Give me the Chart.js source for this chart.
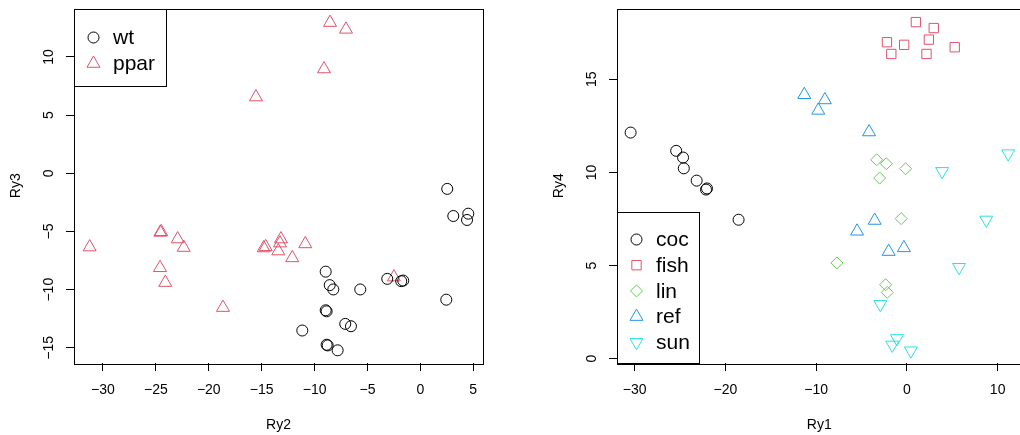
<!DOCTYPE html>
<html>
<head>
<meta charset="utf-8">
<script src="https://cdn.jsdelivr.net/npm/chart.js@4/dist/chart.umd.min.js"></script>
<style>
html, body { margin:0; padding:0; background:#fff; overflow:hidden; width:1020px; height:435px; }
#left { position:absolute; left:0; top:0; width:510px; height:435px; }
#right { position:absolute; left:510px; top:0; width:520px; height:435px; }
</style>
</head>
<body>
<div id="left"><canvas id="c1" width="510" height="435"></canvas></div>
<div id="right"><canvas id="c2" width="520" height="435"></canvas></div>
<script>
// left panel: Ry2 vs Ry3
var wtX = [2.54, 3.11, 4.53, 4.41, 2.45, -8.95, -8.57, -8.23, -5.68, -3.13, -1.81, -1.62, -8.95, -8.86, -7.10, -6.56, -11.16, -8.86, -8.76, -7.82];
var wtY = [-1.34, -3.67, -3.47, -4.01, -10.86, -8.45, -9.61, -9.98, -9.98, -9.07, -9.27, -9.22, -11.77, -11.86, -12.94, -13.14, -13.51, -14.73, -14.79, -15.21];
var pparX = [-8.54, -7.03, -9.11, -15.54, -31.26, -24.58, -24.50, -22.94, -22.37, -24.61, -24.11, -18.66, -14.81, -14.62, -13.18, -13.27, -13.43, -12.11, -10.88, -2.50];
var pparY = [12.95, 12.37, 8.96, 6.55, -6.34, -5.08, -5.03, -5.65, -6.38, -8.12, -9.39, -11.54, -6.42, -6.32, -5.65, -6.00, -6.68, -7.27, -6.07, -8.92];

// right panel: Ry1 vs Ry4
var cocX = [-30.45, -25.43, -24.67, -24.59, -23.17, -22.14, -22.03, -18.55];
var cocY = [12.14, 11.16, 10.80, 10.22, 9.56, 9.08, 9.14, 7.46];
var fishX = [0.99, 2.96, -2.20, -0.30, 2.42, -1.72, 2.16, 5.27];
var fishY = [18.07, 17.75, 16.99, 16.85, 17.13, 16.36, 16.36, 16.72];
var linX = [-3.33, -2.27, -0.14, -3.00, -0.63, -7.72, -2.34, -2.16];
var linY = [10.68, 10.47, 10.20, 9.70, 7.52, 5.14, 3.97, 3.56];
var refX = [-11.31, -9.04, -9.77, -4.17, -3.55, -5.49, -2.01, -0.33];
var refY = [14.17, 13.89, 13.33, 12.17, 7.42, 6.84, 5.75, 5.95];
var sunX = [11.16, 3.88, 8.75, 5.75, -2.93, -1.10, -1.61, 0.44];
var sunY = [11.01, 10.06, 7.45, 4.91, 2.92, 1.09, 0.74, 0.43];

// tick values
var leftXTicks = [-30, -25, -20, -15, -10, -5, 0, 5];
var leftYTicks = [-15, -10, -5, 0, 5, 10];
var rightXTicks = [-30, -20, -10, 0, 10];
var rightYTicks = [0, 5, 10, 15];

var FONT = '"Liberation Sans", Arial, Helvetica, sans-serif';

function fmt(v) {
    return v < 0 ? '\u2212' + Math.abs(v) : String(v);
}
function pts(xs, ys) {
    return xs.map(function (x, i) { return {x: x, y: ys[i]}; });
}
function ds(label, xs, ys, color, style, radius, rot) {
    return {
        label: label,
        data: pts(xs, ys),
        borderColor: color,
        backgroundColor: 'rgba(0,0,0,0)',
        pointStyle: style,
        pointRadius: radius,
        pointRotation: rot || 0,
        pointBorderWidth: 1,
        pointBackgroundColor: 'rgba(0,0,0,0)',
        pointBorderColor: color
    };
}

// box around plot, rotated y tick labels, R-like legend
var rbox = {
    id: 'rbox',
    afterDraw: function (chart, args, opts) {
        var ctx = chart.ctx, a = chart.chartArea;
        ctx.save();
        ctx.strokeStyle = '#000';
        ctx.lineWidth = 1;
        ctx.strokeRect(Math.round(a.left) + 0.5, Math.round(a.top) + 0.5,
            Math.round(a.right - a.left), Math.round(a.bottom - a.top));

        var ys = chart.scales.y;
        ctx.fillStyle = '#000';
        ctx.font = '14px ' + FONT;
        ctx.textAlign = 'center';
        ctx.textBaseline = 'middle';
        ys.ticks.forEach(function (t) {
            var py = ys.getPixelForValue(t.value);
            ctx.save();
            ctx.translate(a.left - opts.labelOffset, py);
            ctx.rotate(-Math.PI / 2);
            ctx.fillText(fmt(t.value), 0, 0);
            ctx.restore();
        });

        // legend
        var lg = opts.legend;
        var n = chart.data.datasets.length;
        var bx = Math.round(a.left) + 0.5;
        var by = lg.corner === 'top' ? Math.round(a.top) + 0.5 : Math.round(a.bottom) + 0.5 - lg.h;
        ctx.fillStyle = '#fff';
        ctx.fillRect(bx, by, lg.w, lg.h);
        ctx.strokeRect(bx, by, lg.w, lg.h);
        var y0 = by + lg.first;
        chart.data.datasets.forEach(function (d, i) {
            var yy = y0 + i * lg.step;
            ctx.strokeStyle = d.pointBorderColor;
            ctx.fillStyle = 'rgba(0,0,0,0)';
            ctx.lineWidth = 1;
            Chart.helpers.drawPoint(ctx, {
                pointStyle: d.pointStyle, radius: d.pointRadius,
                rotation: d.pointRotation, borderWidth: 1
            }, bx + 19, yy);
            ctx.fillStyle = '#000';
            ctx.font = '21px ' + FONT;
            ctx.textAlign = 'left';
            ctx.textBaseline = 'middle';
            ctx.fillText(d.label, bx + 38.5, yy + 1);
        });
        ctx.restore();
    }
};

function axisCfg(min, max, ticks, title, isX, titlePad, fitSize) {
    return {
        type: 'linear',
        min: min,
        max: max,
        afterBuildTicks: function (s) {
            s.ticks = ticks.map(function (v) { return {value: v}; });
        },
        afterFit: function (s) {
            if (isX) { s.height = fitSize; } else { s.width = fitSize; }
        },
        grid: {drawOnChartArea: false, drawTicks: true, tickLength: 8, color: '#000', lineWidth: 1},
        border: {display: false},
        ticks: {
            display: isX,
            padding: 11,
            color: '#000',
            font: {family: FONT, size: 14},
            autoSkip: false,
            maxRotation: 0,
            minRotation: 0,
            callback: function (v) { return fmt(v); }
        },
        title: {
            display: true,
            text: title,
            color: '#000',
            font: {family: FONT, size: 14},
            padding: titlePad
        }
    };
}

var chart1 = new Chart(document.getElementById('c1').getContext('2d'), {
    type: 'scatter',
    data: {
        datasets: [
            ds('wt', wtX, wtY, '#000000', 'circle', 5.5),
            ds('ppar', pparX, pparY, '#DF536B', 'triangle', 7.5)
        ]
    },
    options: {
        responsive: false,
        animation: false,
        events: [],
        layout: {padding: {top: 6, right: 27, left: 0, bottom: 0}},
        plugins: {
            legend: {display: false},
            tooltip: {enabled: false},
            rbox: {labelOffset: 25, legend: {corner: 'top', w: 92, h: 77, first: 28, step: 26}}
        },
        scales: {
            x: axisCfg(-32.74, 5.92, leftXTicks, 'Ry2', true, {top: 0, bottom: 1.6}, 72),
            y: axisCfg(-16.30, 14.16, leftYTicks, 'Ry3', false, {top: 7.6, bottom: 0}, 74)
        }
    },
    plugins: [rbox]
});

var chart2 = new Chart(document.getElementById('c2').getContext('2d'), {
    type: 'scatter',
    data: {
        datasets: [
            ds('coc', cocX, cocY, '#000000', 'circle', 5.5),
            ds('fish', fishX, fishY, '#DF536B', 'rect', 6.6),
            ds('lin', linX, linY, '#61D04F', 'rectRot', 6),
            ds('ref', refX, refY, '#2297E6', 'triangle', 7.5),
            ds('sun', sunX, sunY, '#28E2E5', 'triangle', 7.5, 180)
        ]
    },
    options: {
        responsive: false,
        animation: false,
        events: [],
        layout: {padding: {top: 6, right: 6, left: 0, bottom: 0}},
        plugins: {
            legend: {display: false},
            tooltip: {enabled: false},
            rbox: {labelOffset: 25, legend: {corner: 'bottom', w: 82, h: 151, first: 27, step: 25.7}}
        },
        scales: {
            x: axisCfg(-31.95, 12.63, rightXTicks, 'Ry1', true, {top: 0, bottom: 1.6}, 72),
            y: axisCfg(-0.23, 18.80, rightYTicks, 'Ry4', false, {top: 40.6, bottom: 0}, 107)
        }
    },
    plugins: [rbox]
});
</script>
</body>
</html>
